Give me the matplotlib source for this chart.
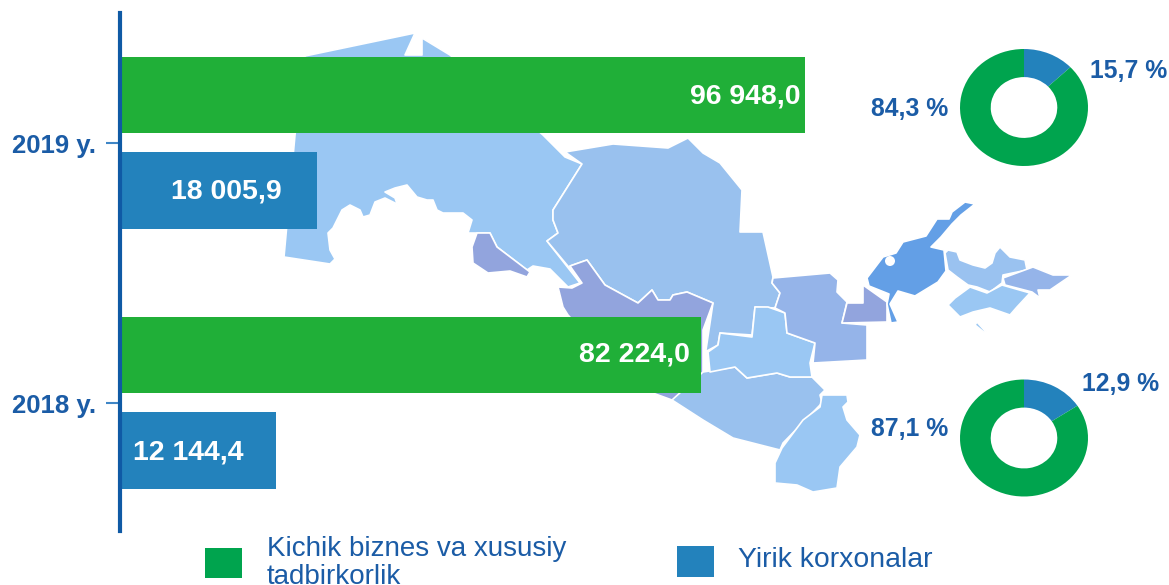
import matplotlib
matplotlib.use('Agg')
import matplotlib.pyplot as plt
from matplotlib.patches import Polygon, Rectangle, Circle

plt.rcParams['font.family'] = ['Liberation Sans', 'DejaVu Sans']

W, H = 1169, 585

years = ['2018 y.', '2019 y.']
small_labels = ['82 224,0', '96 948,0']
large_labels = ['12 144,4', '18 005,9']
small_values = [82224.0, 96948.0]
# the blue bars are not to scale in the original, these are their drawn lengths
large_drawn = [22150, 27970]

# shares as drawn in the rings, the printed labels are swapped against them
ring_top_slices = [12.9, 87.1]
ring_bottom_slices = [15.7, 84.3]
ring_top_labels = ['15,7 %', '84,3 %']
ring_bottom_labels = ['12,9 %', '87,1 %']

legend_labels = ['Kichik biznes va xususiy\ntadbirkorlik', 'Yirik korxonalar']

GREEN = '#20AF38'
BLUE = '#2382BC'
RING_GREEN = '#00A44E'
TEXT = '#1B5CA6'

# backdrop map of the regions, traced in picture pixels
map_regions = [
    ('#9AC7F3', [(305, 56), (415, 33), (405, 55), (422, 55), (422, 38), (450, 55), (543, 135), (565, 157), (582, 164),
                 (553, 210), (553, 220), (558, 233), (547, 241), (580, 283), (568, 287), (550, 269), (533, 266),
                 (527, 270), (497, 247), (490, 233), (477, 233), (468, 233), (472, 220), (463, 213), (443, 213),
                 (437, 210), (433, 200), (427, 200), (417, 197), (407, 185), (395, 188), (385, 192), (395, 198),
                 (400, 212), (395, 203), (385, 198), (375, 202), (370, 215), (363, 217), (360, 210), (350, 205),
                 (342, 210), (333, 228), (328, 233), (330, 250), (335, 259), (330, 264), (284, 257), (295, 135)]),
    ('#99C1EE', [(565, 152), (613, 144), (668, 148), (688, 138), (703, 153), (720, 163), (742, 190), (740, 232),
                 (763, 232), (773, 277), (772, 283), (780, 293), (775, 308), (755, 307), (752, 335), (720, 333),
                 (718, 345), (705, 352), (700, 390), (713, 303), (687, 292), (673, 295), (670, 300), (658, 300),
                 (652, 290), (638, 303), (605, 285), (587, 260), (570, 266), (582, 283), (547, 241), (558, 233),
                 (553, 220), (553, 210), (582, 164)]),
    ('#92A4DD', [(570, 266), (587, 260), (605, 285), (638, 303), (652, 290), (658, 300), (670, 300), (673, 295),
                 (687, 292), (713, 303), (703, 330), (703, 392), (672, 400), (650, 392), (600, 350), (568, 315),
                 (563, 307), (558, 287), (572, 288), (582, 283)]),
    ('#92A4DD', [(477, 233), (490, 233), (497, 247), (530, 272), (527, 277), (510, 271), (488, 273), (473, 263),
                 (472, 247)]),
    ('#99C1EE', [(672, 400), (703, 372), (735, 367), (747, 378), (777, 373), (790, 377), (812, 377), (825, 390),
                 (820, 395), (822, 403), (783, 443), (780, 450), (733, 438), (703, 420)]),
    ('#9AC7F3', [(708, 352), (718, 345), (720, 333), (752, 337), (755, 307), (768, 307), (785, 313), (787, 333),
                 (815, 343), (810, 363), (812, 377), (790, 377), (777, 373), (747, 378), (735, 367), (710, 372)]),
    ('#95B4E9', [(773, 278), (830, 273), (838, 280), (837, 292), (847, 302), (842, 323), (867, 325), (867, 360),
                 (813, 363), (815, 343), (787, 333), (785, 313), (775, 308), (780, 293), (772, 283)]),
    ('#92A4DD', [(847, 303), (863, 303), (863, 285), (887, 302), (887, 322), (842, 323)]),
    ('#639FE6', [(975, 204), (965, 202), (952, 212), (949, 219), (937, 219), (926, 236), (903, 242), (896, 253),
                 (883, 257), (867, 278), (869, 286), (889, 294), (887, 304), (891, 323), (898, 322), (890, 304),
                 (898, 291), (915, 296), (938, 282), (946, 271), (944, 250), (931, 247), (941, 237), (952, 224),
                 (961, 215)]),
    ('#9AC2F0', [(945, 253), (948, 250), (957, 252), (960, 260), (973, 265), (985, 268), (992, 263), (995, 253),
                 (1000, 247), (1010, 257), (1025, 260), (1027, 270), (1003, 275), (1002, 283), (990, 292), (977, 287),
                 (968, 285), (957, 277), (948, 270)]),
    ('#95B4E9', [(1003, 278), (1033, 267), (1053, 275), (1072, 275), (1050, 290), (1038, 290), (1040, 298),
                 (1032, 292), (1005, 285)]),
    ('#9AC7F3', [(948, 305), (955, 298), (970, 287), (987, 293), (1002, 285), (1030, 293), (1017, 307), (1010, 315),
                 (990, 308), (973, 312), (960, 317)]),
    ('#9AC7F3', [(977, 322), (987, 333), (985, 333), (975, 325)]),
    ('#9AC7F3', [(822, 395), (847, 395), (848, 402), (843, 407), (847, 420), (860, 435), (857, 447), (840, 467),
                 (837, 488), (813, 492), (797, 485), (775, 483), (775, 463), (782, 448), (803, 420), (820, 407)]),
]


def px_axes(left, top, right, bottom, **kw):
    return fig.add_axes([left / W, 1 - bottom / H, (right - left) / W, (bottom - top) / H], **kw)


fig = plt.figure(figsize=(W / 100, H / 100), dpi=100)

# map and legend live in a full size axes counted in pixels
bg = fig.add_axes([0, 0, 1, 1], zorder=0)
bg.set_xlim(0, W)
bg.set_ylim(H, 0)
bg.axis('off')
for color, outline in map_regions:
    bg.add_patch(Polygon(outline, closed=True, facecolor=color, edgecolor='white', lw=1.2, joinstyle='round'))
bg.add_patch(Circle((890, 261), 5, color='white', lw=0))

bg.add_patch(Rectangle((205, 548), 37, 30, color=RING_GREEN, lw=0))
bg.add_patch(Rectangle((677, 546), 37, 31, color=BLUE, lw=0))
bg.text(267, 549, legend_labels[0].split('\n')[0], fontsize=20, color=TEXT, va='center')
bg.text(267, 577, legend_labels[0].split('\n')[1], fontsize=20, color=TEXT, va='center')
bg.text(738, 560, legend_labels[1], fontsize=20.4, color=TEXT, va='center')

# bars
ax = px_axes(119.5, 13, 1169, 531, zorder=1)
ax.patch.set_alpha(0)
xmax = (1169 - 119.5) / ((805 - 119.5) / small_values[1])
ax.set_xlim(0, xmax)
ax.set_ylim(-0.492, 1.5)
ypos = [0, 1]
ax.barh([y + 0.185 for y in ypos], small_values, height=0.294, color=GREEN)
ax.barh([y - 0.183 for y in ypos], large_drawn, height=0.296, color=BLUE)

ax.text(small_values[1] - 700, 1 + 0.18, small_labels[1], color='white', fontsize=20.5, fontweight='bold',
        ha='right', va='center')
ax.text(small_values[0] - 1600, 0 + 0.188, small_labels[0], color='white', fontsize=20.5, fontweight='bold',
        ha='right', va='center')
ax.text(7300, 1 - 0.185, large_labels[1], color='white', fontsize=20.5, fontweight='bold', va='center')
ax.text(1900, 0 - 0.19, large_labels[0], color='white', fontsize=20.5, fontweight='bold', va='center')

ax.set_yticks(ypos)
ax.set_yticklabels(years, fontsize=18.5, fontweight='bold', color=TEXT)
ax.set_xticks([])
ax.tick_params(axis='y', length=10, width=1.5, color='#3F86C6', pad=7)
for side in ['top', 'right', 'bottom']:
    ax.spines[side].set_visible(False)
ax.spines['left'].set_color('#0F5AA5')
ax.spines['left'].set_linewidth(3)

# rings, a bit squashed like in the source
ring_colors = [BLUE, RING_GREEN]
for cx, cy, slices in [(1024, 107.5, ring_top_slices), (1024, 438, ring_bottom_slices)]:
    ring = px_axes(cx - 64, cy - 58.5, cx + 64, cy + 58.5, zorder=2)
    ring.pie(slices, colors=ring_colors, startangle=90, counterclock=False, radius=1,
             wedgeprops={'width': 0.48, 'linewidth': 0})
    ring.set_xlim(-1, 1)
    ring.set_ylim(-1, 1)
    ring.set_aspect('auto')

top = fig.add_axes([0, 0, 1, 1], zorder=3)
top.set_xlim(0, W)
top.set_ylim(H, 0)
top.axis('off')
for x, y, s in [(1167, 71, ring_top_labels[0]), (948, 109, ring_top_labels[1]),
                (1159, 384, ring_bottom_labels[0]), (948, 429, ring_bottom_labels[1])]:
    top.text(x, y, s, fontsize=17.8, fontweight='bold', color=TEXT, ha='right', va='center')

fig.savefig('out.png', dpi=100)
